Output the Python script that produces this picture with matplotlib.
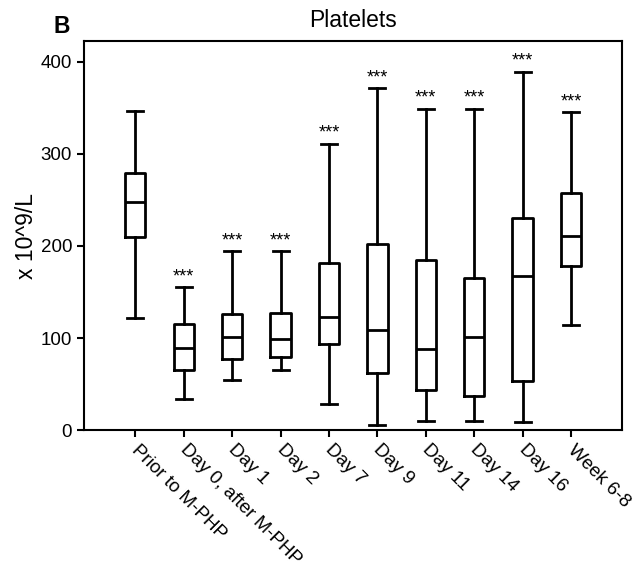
import matplotlib
matplotlib.use("Agg")
import matplotlib.pyplot as plt
from matplotlib.transforms import ScaledTranslation

plt.rcParams['font.family'] = ['Liberation Sans', 'DejaVu Sans']

categories = ["Prior to M-PHP", "Day 0, after M-PHP", "Day 1", "Day 2", "Day 7",
              "Day 9", "Day 11", "Day 14", "Day 16", "Week 6-8"]
whisker_low = [122, 34, 55, 65, 29, 6, 10, 10, 9, 114]
q1 = [210, 65, 77, 80, 94, 62, 44, 37, 53, 178]
median = [248, 89, 101, 99, 123, 109, 88, 101, 167, 211]
q3 = [279, 115, 126, 127, 182, 202, 185, 165, 230, 257]
whisker_high = [346, 155, 194, 194, 311, 371, 349, 349, 389, 345]
significance = ["", "***", "***", "***", "***", "***", "***", "***", "***", "***"]

fig = plt.figure(figsize=(6.44, 5.73), dpi=100)
ax = fig.add_axes([0.1304, 0.249, 0.836, 0.679])

stats = []
for i, c in enumerate(categories):
    stats.append(dict(label=c, whislo=whisker_low[i], q1=q1[i], med=median[i],
                      q3=q3[i], whishi=whisker_high[i], fliers=[]))

positions = list(range(1, len(categories) + 1))
lw = 2.0
ax.bxp(stats, positions=positions, widths=0.42, showfliers=False,
       boxprops=dict(color='black', linewidth=lw),
       medianprops=dict(color='black', linewidth=lw),
       whiskerprops=dict(color='black', linewidth=lw),
       capprops=dict(color='black', linewidth=lw),
       capwidths=0.33)

for p, top, s in zip(positions, whisker_high, significance):
    if s:
        ax.annotate(s, xy=(p, top), xytext=(0, 1.5), textcoords='offset points',
                    ha='center', va='bottom', fontsize=13)

ax.set_xlim(-0.06, 11.06)
ax.set_ylim(0, 422)
ax.set_yticks([0, 100, 200, 300, 400])
ax.set_xticks(positions)
ax.tick_params(axis='y', labelsize=13.5, width=1.5, length=5, direction='out')
ax.tick_params(axis='x', width=1.5, length=5, direction='out', pad=3)
ax.set_xticklabels(categories, rotation=-45, ha='left', rotation_mode='anchor',
                   fontsize=13.6)
shift = ScaledTranslation(5 / 100, 0, fig.dpi_scale_trans)
for lab in ax.get_xticklabels():
    lab.set_transform(lab.get_transform() + shift)
for sp in ax.spines.values():
    sp.set_linewidth(1.5)

ax.set_ylabel("x 10^9/L", fontsize=16.5, labelpad=2)
ax.set_title("Platelets", fontsize=16.5, pad=10)
fig.text(0.083, 1 - 33 / 573, "B", fontsize=16.5, fontweight='bold', va='baseline')

fig.savefig("out.png", dpi=100)
